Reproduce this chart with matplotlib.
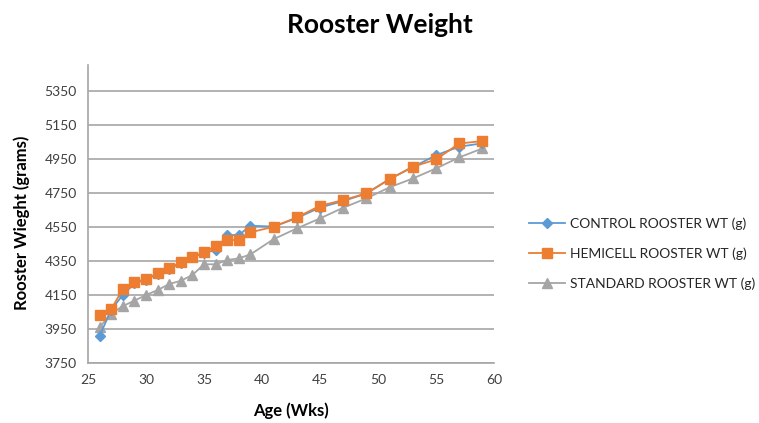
#!/usr/bin/env python3
"""Rooster weight by age, three feed groups."""

import matplotlib
matplotlib.use('Agg')
import matplotlib.pyplot as plt

plt.rcParams['font.family'] = ['Lato', 'DejaVu Sans']

# Age in weeks
weeks = [26, 27, 28, 29, 30, 31, 32, 33, 34, 35, 36, 37, 38, 39,
         41, 43, 45, 47, 49, 51, 53, 55, 57, 59]

control_wt = [3906, 4060, 4147, 4215, 4238, 4270, 4300, 4335, 4368, 4395, 4412, 4500,
              4500, 4555, 4550, 4600, 4662, 4700, 4745, 4830, 4900, 4970, 5020, 5040]
hemicell_wt = [4029, 4063, 4182, 4222, 4241, 4275, 4304, 4339, 4372, 4398, 4435, 4471,
               4471, 4516, 4549, 4604, 4672, 4706, 4745, 4829, 4902, 4945, 5039, 5053]
standard_wt = [3957, 4038, 4082, 4114, 4147, 4176, 4212, 4231, 4265, 4328, 4328, 4353,
               4363, 4386, 4476, 4539, 4598, 4661, 4716, 4781, 4833, 4892, 4957, 5010]

labels = ['CONTROL ROOSTER WT (g)', 'HEMICELL ROOSTER WT (g)', 'STANDARD ROOSTER WT (g)']
x_ticks = [25, 30, 35, 40, 45, 50, 55, 60]
y_ticks = [3750, 3950, 4150, 4350, 4550, 4750, 4950, 5150, 5350]

fig = plt.figure(figsize=(7.59, 4.23), dpi=100)
ax = fig.add_axes([0.1159, 0.143, 0.535, 0.703])

ax.plot(weeks, control_wt, color='#5B9BD5', marker='D', markersize=5,
        linewidth=1.3, label=labels[0], zorder=3)
ax.plot(weeks, hemicell_wt, color='#ED7D31', marker='s', markersize=7.5,
        linewidth=1.3, label=labels[1], zorder=4)
ax.plot(weeks, standard_wt, color='#A5A5A5', marker='^', markersize=7.5,
        linewidth=1.3, label=labels[2], zorder=2)

ax.set_xlim(25, 60)
ax.set_ylim(3750, 5500)
ax.set_xticks(x_ticks)
ax.set_yticks(y_ticks)
ax.tick_params(axis='both', length=0, labelsize=10, colors='#404040', pad=8)

ax.grid(axis='y', color='#A6A6A6', linewidth=1.2)
ax.set_axisbelow(True)
for side in ['top', 'right']:
    ax.spines[side].set_visible(False)
ax.spines['left'].set_color('#A6A6A6')
ax.spines['bottom'].set_color('#A6A6A6')
ax.spines['left'].set_linewidth(1.2)
ax.spines['bottom'].set_linewidth(1.2)

ax.set_xlabel('Age (Wks)', fontsize=12, fontweight='bold')
ax.xaxis.set_label_coords(0.5, -0.135)
ax.set_ylabel('Rooster Wieght (grams)', fontsize=12, fontweight='bold')
ax.yaxis.set_label_coords(-0.142, 0.47)
fig.text(0.5, 0.94, 'Rooster Weight', ha='center', va='center',
         fontsize=19, fontweight='bold')

fig.legend(loc='center left', bbox_to_anchor=(0.68, 0.40), frameon=False,
           fontsize=10, labelspacing=1.25, handlelength=2.6, handletextpad=0.4,
           labelcolor='#262626')

plt.savefig('out.png', dpi=100, facecolor='white')
plt.close()
